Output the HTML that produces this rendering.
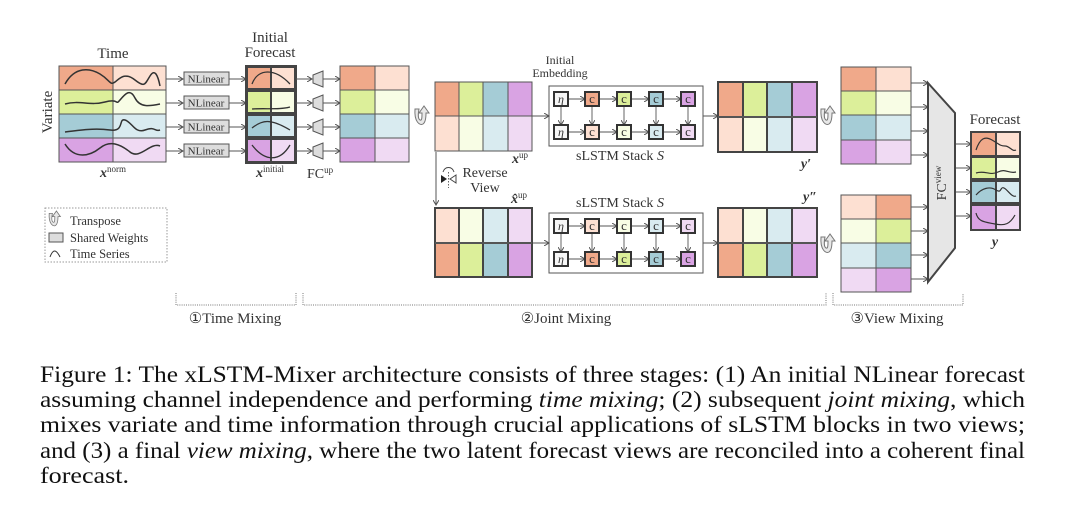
<!DOCTYPE html>
<html><head><meta charset="utf-8"><style>
html,body{margin:0;padding:0;background:#fff;}
svg{display:block;}
text{font-family:"Liberation Serif",serif;fill:#333;}
</style></head><body>
<svg width="1080" height="524" viewBox="0 0 1080 524" xmlns="http://www.w3.org/2000/svg">
<defs>
<marker id="ar" markerWidth="6" markerHeight="6" refX="5" refY="3" orient="auto" markerUnits="userSpaceOnUse"><path d="M0,0 L5,3 L0,6" fill="none" stroke="#555" stroke-width="1"/></marker>
<g id="tp"><path d="M-6,-7 C-7,6 -1,10 2,8 C5,6 5,0 5,-3 L8,-3 L3,-10 L-2,-3 L1,-3 C1,1 1,5 -1,4 C-3,3 -3,-2 -2,-7 Z" fill="#e8e8e8" stroke="#777" stroke-width="1"/></g>
</defs>
<g font-size="15">
<text x="113" y="58" text-anchor="middle">Time</text>
<text x="52" y="112" text-anchor="middle" transform="rotate(-90 52 112)">Variate</text>
<text x="270" y="42" text-anchor="middle">Initial</text>
<text x="270" y="57" text-anchor="middle">Forecast</text>
</g>
<g stroke="#555" stroke-width="1">
<rect x="59" y="66" width="54" height="24" fill="#f0a98a"/><rect x="113" y="66" width="53" height="24" fill="#fde0d2"/>
<rect x="59" y="90" width="54" height="24" fill="#dcef9a"/><rect x="113" y="90" width="53" height="24" fill="#f8fde5"/>
<rect x="59" y="114" width="54" height="24" fill="#a5ccd6"/><rect x="113" y="114" width="53" height="24" fill="#d9ebf0"/>
<rect x="59" y="138" width="54" height="24" fill="#d9a3e3"/><rect x="113" y="138" width="53" height="24" fill="#f0daf3"/>
</g>
<g fill="none" stroke="#333" stroke-width="1.5">
<path d="M65,84 C75,66 90,68 100,74 S110,86 115,82 S125,72 135,80 S145,84 150,76 S158,76 160,86"/>
<path d="M65,104 C80,100 90,106 105,102 S115,106 120,100 S130,88 135,98 S150,106 160,104"/>
<path d="M65,132 C80,130 95,128 110,130 S118,118 125,120 S135,134 145,130 S155,132 160,130"/>
<path d="M65,144 C75,160 90,156 100,148 S120,144 130,152 S150,142 160,146"/>
</g>
<text x="113" y="177" text-anchor="middle" font-size="14" font-style="italic" font-weight="bold">x<tspan font-size="9" font-style="normal" font-weight="normal" dy="-5">norm</tspan></text>
<g font-size="11">
<g stroke="#555" fill="none">
<path d="M166,79H183" marker-end="url(#ar)"/><path d="M229,79H246" marker-end="url(#ar)"/>
<path d="M166,103H183" marker-end="url(#ar)"/><path d="M229,103H246" marker-end="url(#ar)"/>
<path d="M166,127H183" marker-end="url(#ar)"/><path d="M229,127H246" marker-end="url(#ar)"/>
<path d="M166,151H183" marker-end="url(#ar)"/><path d="M229,151H246" marker-end="url(#ar)"/></g>
<rect x="184" y="72" width="45" height="13" fill="#ddd" stroke="#555"/><text x="206" y="82.5" text-anchor="middle">NLinear</text>
<rect x="184" y="96" width="45" height="13" fill="#ddd" stroke="#555"/><text x="206" y="106.5" text-anchor="middle">NLinear</text>
<rect x="184" y="120" width="45" height="13" fill="#ddd" stroke="#555"/><text x="206" y="130.5" text-anchor="middle">NLinear</text>
<rect x="184" y="144" width="45" height="13" fill="#ddd" stroke="#555"/><text x="206" y="154.5" text-anchor="middle">NLinear</text>
</g>
<g stroke="#444" stroke-width="2">
<rect x="247" y="67" width="24" height="22" fill="#f0a98a"/><rect x="271" y="67" width="24" height="22" fill="#fde0d2"/>
<rect x="247" y="91" width="24" height="22" fill="#dcef9a"/><rect x="271" y="91" width="24" height="22" fill="#f8fde5"/>
<rect x="247" y="115" width="24" height="22" fill="#a5ccd6"/><rect x="271" y="115" width="24" height="22" fill="#d9ebf0"/>
<rect x="247" y="139" width="24" height="23" fill="#d9a3e3"/><rect x="271" y="139" width="24" height="23" fill="#f0daf3"/>
</g>
<rect x="246" y="66" width="50" height="97" fill="none" stroke="#444" stroke-width="2"/>
<g fill="none" stroke="#333" stroke-width="1.3">
<path d="M252,84 C258,68 275,68 290,84"/><path d="M252,109 C265,108 280,110 290,107"/><path d="M252,128 C262,120 270,118 290,130"/><path d="M252,145 C265,162 280,162 290,145"/>
</g>
<text x="270" y="177" text-anchor="middle" font-size="14" font-style="italic" font-weight="bold">x<tspan font-size="9" font-style="normal" font-weight="normal" dy="-5">initial</tspan></text>
<g stroke="#555" fill="none">
<path d="M296,79H312" marker-end="url(#ar)"/><path d="M323,79H340" marker-end="url(#ar)"/>
<path d="M296,103H312" marker-end="url(#ar)"/><path d="M323,103H340" marker-end="url(#ar)"/>
<path d="M296,127H312" marker-end="url(#ar)"/><path d="M323,127H340" marker-end="url(#ar)"/>
<path d="M296,151H312" marker-end="url(#ar)"/><path d="M323,151H340" marker-end="url(#ar)"/></g>
<g fill="#ddd" stroke="#555"><path d="M313,75L323,71V87L313,83Z"/><path d="M313,99L323,95V111L313,107Z"/><path d="M313,123L323,119V135L313,131Z"/><path d="M313,147L323,143V159L313,155Z"/></g>
<text x="320" y="178" text-anchor="middle" font-size="14">FC<tspan font-size="9" dy="-5">up</tspan></text>
<g stroke="#555">
<rect x="340" y="66" width="35" height="24" fill="#f0a98a"/><rect x="375" y="66" width="34" height="24" fill="#fde0d2"/>
<rect x="340" y="90" width="35" height="24" fill="#dcef9a"/><rect x="375" y="90" width="34" height="24" fill="#f8fde5"/>
<rect x="340" y="114" width="35" height="24" fill="#a5ccd6"/><rect x="375" y="114" width="34" height="24" fill="#d9ebf0"/>
<rect x="340" y="138" width="35" height="24" fill="#d9a3e3"/><rect x="375" y="138" width="34" height="24" fill="#f0daf3"/>
</g>
<use href="#tp" x="421" y="116"/>
<use href="#tp" x="827" y="116"/>
<use href="#tp" x="827" y="244"/>
<g stroke="#555">
<rect x="435" y="82" width="24" height="34" fill="#f0a98a"/><rect x="459" y="82" width="24" height="34" fill="#dcef9a"/><rect x="483" y="82" width="25" height="34" fill="#a5ccd6"/><rect x="508" y="82" width="24" height="34" fill="#d9a3e3"/>
<rect x="435" y="116" width="24" height="35" fill="#fde0d2"/><rect x="459" y="116" width="24" height="35" fill="#f8fde5"/><rect x="483" y="116" width="25" height="35" fill="#d9ebf0"/><rect x="508" y="116" width="24" height="35" fill="#f0daf3"/>
</g>
<text x="520" y="163" text-anchor="middle" font-size="14" font-style="italic" font-weight="bold">x<tspan font-size="9" font-style="normal" font-weight="normal" dy="-5">up</tspan></text>
<text x="560" y="64" text-anchor="middle" font-size="12">Initial</text>
<text x="560" y="77" text-anchor="middle" font-size="12">Embedding</text>
<g stroke="#555" fill="none">
<path d="M532,116H549" marker-end="url(#ar)"/><path d="M703,116H718" marker-end="url(#ar)"/>
<path d="M532,243H549" marker-end="url(#ar)"/><path d="M703,243H718" marker-end="url(#ar)"/>
<rect x="549" y="86" width="154" height="60"/><rect x="549" y="213" width="154" height="60"/>
</g>
<g stroke="#555" fill="none" stroke-width="0.9">
<path d="M567,99H585" marker-end="url(#ar)"/><path d="M599,99H617" marker-end="url(#ar)"/><path d="M631,99H649" marker-end="url(#ar)"/><path d="M663,99H681" marker-end="url(#ar)"/>
<path d="M567,132H585" marker-end="url(#ar)"/><path d="M599,132H617" marker-end="url(#ar)"/><path d="M631,132H649" marker-end="url(#ar)"/><path d="M663,132H681" marker-end="url(#ar)"/>
<path d="M561,106V125" marker-end="url(#ar)"/><path d="M592,106V125" marker-end="url(#ar)"/><path d="M624,106V125" marker-end="url(#ar)"/><path d="M656,106V125" marker-end="url(#ar)"/><path d="M688,106V125" marker-end="url(#ar)"/>
<path d="M567,226H585" marker-end="url(#ar)"/><path d="M599,226H617" marker-end="url(#ar)"/><path d="M631,226H649" marker-end="url(#ar)"/><path d="M663,226H681" marker-end="url(#ar)"/>
<path d="M567,259H585" marker-end="url(#ar)"/><path d="M599,259H617" marker-end="url(#ar)"/><path d="M631,259H649" marker-end="url(#ar)"/><path d="M663,259H681" marker-end="url(#ar)"/>
<path d="M561,233V252" marker-end="url(#ar)"/><path d="M592,233V252" marker-end="url(#ar)"/><path d="M624,233V252" marker-end="url(#ar)"/><path d="M656,233V252" marker-end="url(#ar)"/><path d="M688,233V252" marker-end="url(#ar)"/>
</g>
<g stroke="#333" stroke-width="2">
<rect x="554" y="92" width="14" height="14" fill="#f6f6f6"/><rect x="585" y="92" width="14" height="14" fill="#f0a98a"/><rect x="617" y="92" width="14" height="14" fill="#dcef9a"/><rect x="649" y="92" width="14" height="14" fill="#a5ccd6"/><rect x="681" y="92" width="14" height="14" fill="#d9a3e3"/>
<rect x="554" y="125" width="14" height="14" fill="#f6f6f6"/><rect x="585" y="125" width="14" height="14" fill="#fde0d2"/><rect x="617" y="125" width="14" height="14" fill="#f8fde5"/><rect x="649" y="125" width="14" height="14" fill="#d9ebf0"/><rect x="681" y="125" width="14" height="14" fill="#f0daf3"/>
<rect x="554" y="219" width="14" height="14" fill="#f6f6f6"/><rect x="585" y="219" width="14" height="14" fill="#fde0d2"/><rect x="617" y="219" width="14" height="14" fill="#f8fde5"/><rect x="649" y="219" width="14" height="14" fill="#d9ebf0"/><rect x="681" y="219" width="14" height="14" fill="#f0daf3"/>
<rect x="554" y="252" width="14" height="14" fill="#f6f6f6"/><rect x="585" y="252" width="14" height="14" fill="#f0a98a"/><rect x="617" y="252" width="14" height="14" fill="#dcef9a"/><rect x="649" y="252" width="14" height="14" fill="#a5ccd6"/><rect x="681" y="252" width="14" height="14" fill="#d9a3e3"/>
</g>
<g font-size="12" text-anchor="middle" font-style="italic">
<text x="561" y="103">η</text><text x="561" y="136">η</text><text x="561" y="230">η</text><text x="561" y="263">η</text>
</g>
<g font-size="13" text-anchor="middle">
<text x="592" y="103">c</text><text x="624" y="103">c</text><text x="656" y="103">c</text><text x="688" y="103">c</text>
<text x="592" y="136">c</text><text x="624" y="136">c</text><text x="656" y="136">c</text><text x="688" y="136">c</text>
<text x="592" y="230">c</text><text x="624" y="230">c</text><text x="656" y="230">c</text><text x="688" y="230">c</text>
<text x="592" y="263">c</text><text x="624" y="263">c</text><text x="656" y="263">c</text><text x="688" y="263">c</text>
</g>
<text x="620" y="160" text-anchor="middle" font-size="14">sLSTM Stack <tspan font-style="italic">S</tspan></text>
<text x="620" y="207" text-anchor="middle" font-size="14">sLSTM Stack <tspan font-style="italic">S</tspan></text>
<g stroke="#444" stroke-width="2">
<rect x="718" y="82" width="25" height="35" fill="#f0a98a"/><rect x="743" y="82" width="24" height="35" fill="#dcef9a"/><rect x="767" y="82" width="25" height="35" fill="#a5ccd6"/><rect x="792" y="82" width="25" height="35" fill="#d9a3e3"/>
<rect x="718" y="117" width="25" height="35" fill="#fde0d2"/><rect x="743" y="117" width="24" height="35" fill="#f8fde5"/><rect x="767" y="117" width="25" height="35" fill="#d9ebf0"/><rect x="792" y="117" width="25" height="35" fill="#f0daf3"/>
<rect x="718" y="82" width="25" height="70" fill="none"/><rect x="743" y="82" width="24" height="70" fill="none"/><rect x="767" y="82" width="25" height="70" fill="none"/><rect x="792" y="82" width="25" height="70" fill="none"/>
</g>
<path d="M718,117H817" stroke="#666"/>
<text x="806" y="168" text-anchor="middle" font-size="14" font-style="italic" font-weight="bold">y′</text>
<path d="M436,152V205" stroke="#555" fill="none" marker-end="url(#ar)"/>
<path d="M441,175L447,179L441,183Z" fill="#222"/><path d="M456,175L450,179L456,183Z" fill="none" stroke="#444"/>
<path d="M448.5,172V188" stroke="#666" stroke-dasharray="1.5,1.5"/><path d="M443,172 C445,166 452,166 454,172" fill="none" stroke="#444"/>
<text x="485" y="177" text-anchor="middle" font-size="14">Reverse</text>
<text x="485" y="192" text-anchor="middle" font-size="14">View</text>
<text x="519" y="203" text-anchor="middle" font-size="14" font-style="italic" font-weight="bold">x̂<tspan font-size="9" font-style="normal" font-weight="normal" dy="-5">up</tspan></text>
<g stroke="#444" stroke-width="2">
<rect x="435" y="208" width="24" height="35" fill="#fde0d2"/><rect x="459" y="208" width="24" height="35" fill="#f8fde5"/><rect x="483" y="208" width="25" height="35" fill="#d9ebf0"/><rect x="508" y="208" width="24" height="35" fill="#f0daf3"/>
<rect x="435" y="243" width="24" height="34" fill="#f0a98a"/><rect x="459" y="243" width="24" height="34" fill="#dcef9a"/><rect x="483" y="243" width="25" height="34" fill="#a5ccd6"/><rect x="508" y="243" width="24" height="34" fill="#d9a3e3"/>
<rect x="435" y="208" width="24" height="69" fill="none"/><rect x="459" y="208" width="24" height="69" fill="none"/><rect x="483" y="208" width="25" height="69" fill="none"/><rect x="508" y="208" width="24" height="69" fill="none"/>
</g>
<path d="M435,243H532" stroke="#666"/>
<g stroke="#444" stroke-width="2">
<rect x="718" y="208" width="25" height="35" fill="#fde0d2"/><rect x="743" y="208" width="24" height="35" fill="#f8fde5"/><rect x="767" y="208" width="25" height="35" fill="#d9ebf0"/><rect x="792" y="208" width="25" height="35" fill="#f0daf3"/>
<rect x="718" y="243" width="25" height="34" fill="#f0a98a"/><rect x="743" y="243" width="24" height="34" fill="#dcef9a"/><rect x="767" y="243" width="25" height="34" fill="#a5ccd6"/><rect x="792" y="243" width="25" height="34" fill="#d9a3e3"/>
<rect x="718" y="208" width="25" height="69" fill="none"/><rect x="743" y="208" width="24" height="69" fill="none"/><rect x="767" y="208" width="25" height="69" fill="none"/><rect x="792" y="208" width="25" height="69" fill="none"/>
</g>
<path d="M718,243H817" stroke="#666"/>
<text x="810" y="201" text-anchor="middle" font-size="14" font-style="italic" font-weight="bold">y″</text>
<g stroke="#555">
<rect x="841" y="67" width="35" height="24" fill="#f0a98a"/><rect x="876" y="67" width="35" height="24" fill="#fde0d2"/>
<rect x="841" y="91" width="35" height="24" fill="#dcef9a"/><rect x="876" y="91" width="35" height="24" fill="#f8fde5"/>
<rect x="841" y="115" width="35" height="25" fill="#a5ccd6"/><rect x="876" y="115" width="35" height="25" fill="#d9ebf0"/>
<rect x="841" y="140" width="35" height="24" fill="#d9a3e3"/><rect x="876" y="140" width="35" height="24" fill="#f0daf3"/>
<rect x="841" y="195" width="35" height="24" fill="#fde0d2"/><rect x="876" y="195" width="35" height="24" fill="#f0a98a"/>
<rect x="841" y="219" width="35" height="24" fill="#f8fde5"/><rect x="876" y="219" width="35" height="24" fill="#dcef9a"/>
<rect x="841" y="243" width="35" height="25" fill="#d9ebf0"/><rect x="876" y="243" width="35" height="25" fill="#a5ccd6"/>
<rect x="841" y="268" width="35" height="24" fill="#f0daf3"/><rect x="876" y="268" width="35" height="24" fill="#d9a3e3"/>
</g>
<g stroke="#555" fill="none">
<path d="M911,83H928" marker-end="url(#ar)"/><path d="M911,107H928" marker-end="url(#ar)"/><path d="M911,131H928" marker-end="url(#ar)"/><path d="M911,155H928" marker-end="url(#ar)"/>
<path d="M911,207H928" marker-end="url(#ar)"/><path d="M911,231H928" marker-end="url(#ar)"/><path d="M911,255H928" marker-end="url(#ar)"/><path d="M911,279H928" marker-end="url(#ar)"/>
<path d="M955,144H971" marker-end="url(#ar)"/><path d="M955,168H971" marker-end="url(#ar)"/><path d="M955,192H971" marker-end="url(#ar)"/><path d="M955,216H971" marker-end="url(#ar)"/>
</g>
<path d="M928,83L955,113V248L928,282Z" fill="#e6e6e6" stroke="#444" stroke-width="2"/>
<text x="946" y="183" text-anchor="middle" font-size="14" fill="#555" transform="rotate(-90 946 183)">FC<tspan font-size="9" dy="-5">view</tspan></text>
<text x="995" y="124" text-anchor="middle" font-size="15">Forecast</text>
<g stroke="#444" stroke-width="2">
<rect x="971" y="132" width="25" height="24" fill="#f0a98a"/><rect x="996" y="132" width="24" height="24" fill="#fde0d2"/>
<rect x="971" y="157" width="25" height="22" fill="#dcef9a"/><rect x="996" y="157" width="24" height="22" fill="#f8fde5"/>
<rect x="971" y="181" width="25" height="22" fill="#a5ccd6"/><rect x="996" y="181" width="24" height="22" fill="#d9ebf0"/>
<rect x="971" y="205" width="25" height="25" fill="#d9a3e3"/><rect x="996" y="205" width="24" height="25" fill="#f0daf3"/>
</g>
<g fill="none" stroke="#333" stroke-width="1.2">
<path d="M976,150 C980,138 985,136 992,140 S1000,146 1005,146 S1012,152 1016,150"/>
<path d="M976,173 C985,170 990,176 998,172 S1008,174 1016,172"/>
<path d="M976,195 C982,188 990,186 996,190 S1000,186 1004,188 S1012,198 1016,196"/>
<path d="M976,213 C978,222 985,222 995,224 S1010,224 1015,215"/>
</g>
<text x="995" y="246" text-anchor="middle" font-size="14" font-style="italic" font-weight="bold">y</text>
<rect x="45" y="208" width="122" height="54" fill="none" stroke="#999" stroke-dasharray="1.5,1.5"/>
<use href="#tp" x="54" y="219" transform="translate(54 219) scale(0.8) translate(-54 -219)"/>
<text x="70" y="225" font-size="12.5">Transpose</text>
<rect x="49" y="233" width="14" height="9" fill="#ddd" stroke="#555"/>
<text x="70" y="242" font-size="12.5">Shared Weights</text>
<path d="M50,257 C53,249 56,249 60,257" fill="none" stroke="#333"/>
<text x="70" y="258" font-size="12.5">Time Series</text>
<g fill="none" stroke="#777" stroke-dasharray="1,1.2">
<path d="M176,293V305H296V293"/><path d="M303,293V305H826V293"/><path d="M833,293V305H963V293"/>
</g>
<g font-size="15" text-anchor="middle">
<text x="235" y="323">①Time Mixing</text>
<text x="566" y="323">②Joint Mixing</text>
<text x="897" y="323">③View Mixing</text>
</g>
<g font-size="23">
<text x="40" y="382" textLength="985" lengthAdjust="spacingAndGlyphs" style="fill:#111">Figure 1: The xLSTM-Mixer architecture consists of three stages: (1) An initial NLinear forecast</text>
<text x="40" y="407" textLength="985" lengthAdjust="spacingAndGlyphs" style="fill:#111">assuming channel independence and performing <tspan font-style="italic">time mixing</tspan>; (2) subsequent <tspan font-style="italic">joint mixing</tspan>, which</text>
<text x="40" y="432" textLength="985" lengthAdjust="spacingAndGlyphs" style="fill:#111">mixes variate and time information through crucial applications of sLSTM blocks in two views;</text>
<text x="40" y="458" textLength="985" lengthAdjust="spacingAndGlyphs" style="fill:#111">and (3) a final <tspan font-style="italic">view mixing</tspan>, where the two latent forecast views are reconciled into a coherent final</text>
<text x="40" y="483" textLength="89" lengthAdjust="spacingAndGlyphs" style="fill:#111">forecast.</text>
</g>
</svg>
</body></html>
